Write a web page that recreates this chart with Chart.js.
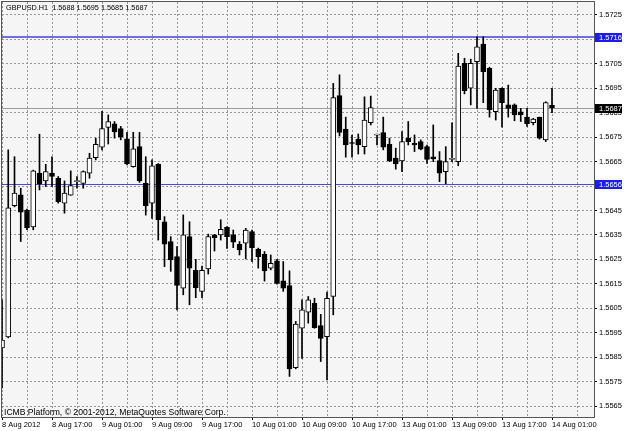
<!DOCTYPE html>
<html>
<head>
<meta charset="utf-8">
<script src="https://cdn.jsdelivr.net/npm/chart.js@4.4.0/dist/chart.umd.min.js"></script>
<style>
  html, body { margin: 0; padding: 0; background: #fff; }
  canvas { display: block; }
</style>
</head>
<body>
<canvas id="chart" width="625" height="431"></canvas>
<script>
  'use strict';

  var symbolTitle = 'GBPUSD.H1  1.5688 1.5695 1.5685 1.5687';
  var copyright = 'ICMB Platform, \u00a9 2001-2012, MetaQuotes Software Corp.';

  // hourly bars, 8 Aug 09:00 .. 14 Aug 01:00
  var opens = [
    1.55888, 1.55933, 1.56470, 1.56514, 1.56452, 1.56383, 1.56602, 1.56571, 1.56603, 1.56582,
    1.56480, 1.56513, 1.56568, 1.56561, 1.56603, 1.56666, 1.56709, 1.56790, 1.56805, 1.56785,
    1.56743, 1.56629, 1.56711, 1.56561, 1.56480, 1.56639, 1.56404, 1.56323, 1.56261, 1.56132,
    1.56343, 1.56205, 1.56119, 1.56211, 1.56350, 1.56350, 1.56381, 1.56350, 1.56312, 1.56316,
    1.56364, 1.56292, 1.56271, 1.56214, 1.56244, 1.56162, 1.56143, 1.55807, 1.55968, 1.56034,
    1.56070, 1.55979, 1.55934, 1.56098, 1.56920, 1.56783, 1.56728, 1.56742, 1.56711, 1.56809,
    1.56758, 1.56769, 1.56721, 1.56664, 1.56653, 1.56746, 1.56725, 1.56732, 1.56711, 1.56670,
    1.56654, 1.56609, 1.56659, 1.56650, 1.57052, 1.56950, 1.57059, 1.57131, 1.57032, 1.56854,
    1.56950, 1.56882, 1.56882, 1.56854, 1.56832, 1.56809, 1.56832, 1.56739, 1.56880
  ];
  var highs = [
    1.56084, 1.56698, 1.56670, 1.56541, 1.56456, 1.56615, 1.56762, 1.56639, 1.56670, 1.56589,
    1.56571, 1.56612, 1.56589, 1.56612, 1.56684, 1.56746, 1.56856, 1.56841, 1.56814, 1.56794,
    1.56770, 1.56770, 1.56770, 1.56670, 1.56657, 1.56642, 1.56425, 1.56343, 1.56302, 1.56432,
    1.56404, 1.56250, 1.56222, 1.56353, 1.56352, 1.56412, 1.56384, 1.56370, 1.56323, 1.56377,
    1.56370, 1.56296, 1.56282, 1.56268, 1.56250, 1.56241, 1.56203, 1.55996, 1.56084, 1.56098,
    1.56091, 1.56025, 1.56116, 1.56970, 1.57005, 1.56832, 1.56759, 1.56763, 1.56915, 1.56918,
    1.56763, 1.56832, 1.56746, 1.56705, 1.56773, 1.56814, 1.56759, 1.56739, 1.56718, 1.56800,
    1.56691, 1.56711, 1.56809, 1.57093, 1.57073, 1.57069, 1.57161, 1.57161, 1.57036, 1.56950,
    1.56952, 1.56963, 1.56886, 1.56868, 1.56868, 1.56827, 1.56832, 1.56895, 1.56950
  ];
  var lows = [
    1.55724, 1.55929, 1.56465, 1.56323, 1.56371, 1.56371, 1.56534, 1.56548, 1.56548, 1.56480,
    1.56439, 1.56512, 1.56541, 1.56541, 1.56582, 1.56657, 1.56698, 1.56722, 1.56746, 1.56739,
    1.56636, 1.56627, 1.56565, 1.56431, 1.56418, 1.56329, 1.56220, 1.56201, 1.56043, 1.56105,
    1.56064, 1.56093, 1.56093, 1.56190, 1.56284, 1.56329, 1.56295, 1.56298, 1.56268, 1.56252,
    1.56241, 1.56214, 1.56161, 1.56207, 1.56148, 1.56119, 1.55771, 1.55802, 1.55845, 1.55989,
    1.55968, 1.55832, 1.55757, 1.56023, 1.56755, 1.56668, 1.56668, 1.56681, 1.56681, 1.56800,
    1.56718, 1.56698, 1.56650, 1.56619, 1.56609, 1.56718, 1.56691, 1.56698, 1.56643, 1.56650,
    1.56568, 1.56559, 1.56650, 1.56633, 1.56927, 1.56882, 1.56868, 1.56891, 1.56832, 1.56820,
    1.56791, 1.56832, 1.56817, 1.56814, 1.56794, 1.56800, 1.56742, 1.56732, 1.56850
  ];
  var closes = [
    1.55920, 1.56461, 1.56521, 1.56443, 1.56379, 1.56612, 1.56559, 1.56609, 1.56589, 1.56486,
    1.56521, 1.56552, 1.56570, 1.56609, 1.56664, 1.56721, 1.56785, 1.56814, 1.56771, 1.56751,
    1.56640, 1.56702, 1.56571, 1.56470, 1.56633, 1.56411, 1.56312, 1.56248, 1.56143, 1.56350,
    1.56214, 1.56134, 1.56205, 1.56343, 1.56339, 1.56373, 1.56343, 1.56320, 1.56289, 1.56370,
    1.56298, 1.56261, 1.56203, 1.56234, 1.56152, 1.56132, 1.55802, 1.55985, 1.56043, 1.56084,
    1.55971, 1.55927, 1.56091, 1.56912, 1.56769, 1.56718, 1.56724, 1.56718, 1.56820, 1.56871,
    1.56762, 1.56709, 1.56653, 1.56640, 1.56732, 1.56732, 1.56718, 1.56701, 1.56659, 1.56661,
    1.56603, 1.56650, 1.56663, 1.57041, 1.56940, 1.57052, 1.57120, 1.57018, 1.56862, 1.56943,
    1.56891, 1.56868, 1.56841, 1.56841, 1.56805, 1.56824, 1.56746, 1.56891, 1.56870
  ];

  // one label every 8 bars
  var timeLabels = [
    '8 Aug 2012', '8 Aug 17:00', '9 Aug 01:00', '9 Aug 09:00', '9 Aug 17:00', '10 Aug 01:00',
    '10 Aug 09:00', '10 Aug 17:00', '13 Aug 01:00', '13 Aug 09:00', '13 Aug 17:00', '14 Aug 01:00'
  ];
  var priceTicks = [
    1.5565, 1.5575, 1.5585, 1.5595, 1.5605, 1.5615, 1.5625, 1.5635, 1.5645,
    1.5655, 1.5665, 1.5675, 1.5685, 1.5695, 1.5705, 1.5715, 1.5725
  ];
  var levelLines = [1.5716, 1.5656];
  var lastPrice = 1.5687;

  var FONT = '"Liberation Sans", Arial, sans-serif';
  var GRID = '#959595';

  var wicks = opens.map(function (o, i) { return { x: i, y: [lows[i], highs[i]] }; });
  var bodies = opens.map(function (o, i) { return { x: i, y: [o, closes[i]] }; });
  var bodyColors = opens.map(function (o, i) { return closes[i] >= o ? '#ffffff' : '#000000'; });

  // background, horizontal lines, frame, texts and price boxes
  var mtPlugin = {
    id: 'mtDecor',
    beforeDraw: function (chart) {
      var a = chart.chartArea, c = chart.ctx;
      c.save();
      c.fillStyle = '#f5f5f5';
      c.fillRect(a.left, a.top, a.right - a.left, a.bottom - a.top);
      c.restore();
    },
    beforeDatasetsDraw: function (chart) {
      var a = chart.chartArea, c = chart.ctx, ys = chart.scales.y;
      c.save();
      c.lineWidth = 1;
      c.strokeStyle = '#9c9c9c';
      var py = Math.round(ys.getPixelForValue(lastPrice)) + 0.5;
      c.beginPath(); c.moveTo(a.left, py); c.lineTo(a.right, py); c.stroke();
      levelLines.forEach(function (v, i) {
        var y = Math.round(ys.getPixelForValue(v));
        c.strokeStyle = i === 0 ? '#6e6ee8' : '#4848e0';
        c.lineWidth = i === 0 ? 2 : 1;
        if (i !== 0) y += 0.5;
        c.beginPath(); c.moveTo(a.left, y); c.lineTo(a.right, y); c.stroke();
      });
      c.restore();
    },
    afterDraw: function (chart) {
      var a = chart.chartArea, c = chart.ctx, ys = chart.scales.y;
      c.save();
      c.strokeStyle = '#555555';
      c.lineWidth = 1;
      c.strokeRect(a.left - 0.5, a.top - 0.5, a.right - a.left + 1, a.bottom - a.top + 1);

      c.fillStyle = '#000';
      c.textBaseline = 'alphabetic';
      c.textAlign = 'left';
      c.font = '7.3px ' + FONT;
      c.fillText(symbolTitle, 6, 10);
      c.font = '8.6px ' + FONT;
      c.fillText(copyright, 4, 415);

      c.font = '7.5px ' + FONT;
      function priceBox(v, bg) {
        var y = Math.round(ys.getPixelForValue(v));
        c.fillStyle = bg;
        c.fillRect(a.right + 1, y - 4, 27, 9);
        c.fillStyle = '#fff';
        c.textBaseline = 'middle';
        c.fillText(v.toFixed(4), a.right + 5, y + 0.5);
      }
      levelLines.forEach(function (v) { priceBox(v, '#1c1cf0'); });
      priceBox(lastPrice, '#000');
      c.restore();
    }
  };

  var ctx = document.getElementById('chart').getContext('2d');
  new Chart(ctx, {
    type: 'bar',
    data: {
      datasets: [
        {
          data: wicks,
          backgroundColor: '#000',
          barThickness: 1,
          grouped: false,
          order: 2
        },
        {
          data: bodies,
          backgroundColor: bodyColors,
          borderColor: '#000',
          borderWidth: 1,
          borderSkipped: false,
          barThickness: 5,
          minBarLength: 1,
          grouped: false,
          order: 1
        }
      ]
    },
    options: {
      responsive: false,
      animation: false,
      events: [],
      layout: { padding: { left: 2, top: 2, right: 0, bottom: 0 } },
      plugins: { legend: { display: false }, tooltip: { enabled: false } },
      scales: {
        x: {
          type: 'linear',
          offset: false,
          min: 0,
          max: 94.72,
          afterBuildTicks: function (scale) {
            var t = [];
            for (var v = 0; v <= 92; v += 4) t.push({ value: v });
            scale.ticks = t;
          },
          afterFit: function (scale) {
            scale.height = 14;
            scale.paddingLeft = 0;
            scale.paddingRight = 0;
          },
          grid: {
            offset: false,
            color: GRID,
            lineWidth: 1,
            tickLength: 3,
            tickColor: function (c) { return c.tick && c.tick.value % 8 === 0 ? '#000' : 'rgba(0,0,0,0)'; }
          },
          border: { display: false, dash: [2, 2] },
          ticks: {
            autoSkip: false,
            maxRotation: 0,
            align: 'start',
            padding: 0,
            color: '#000',
            font: { family: FONT, size: 7.5 },
            callback: function (v) { return v % 8 === 0 ? timeLabels[v / 8] : ''; }
          }
        },
        y: {
          position: 'right',
          min: 1.55605,
          max: 1.57303,
          afterBuildTicks: function (scale) {
            scale.ticks = priceTicks.map(function (v) { return { value: v }; });
          },
          afterFit: function (scale) {
            scale.width = 31;
            scale.paddingTop = 0;
            scale.paddingBottom = 0;
          },
          grid: {
            color: GRID,
            lineWidth: 1,
            tickLength: 3,
            tickColor: '#000'
          },
          border: { display: false, dash: [2, 2] },
          ticks: {
            autoSkip: false,
            padding: 2,
            color: '#000',
            font: { family: FONT, size: 7.5 },
            callback: function (v) { return v.toFixed(4); }
          }
        }
      }
    },
    plugins: [mtPlugin]
  });
</script>
</body>
</html>
